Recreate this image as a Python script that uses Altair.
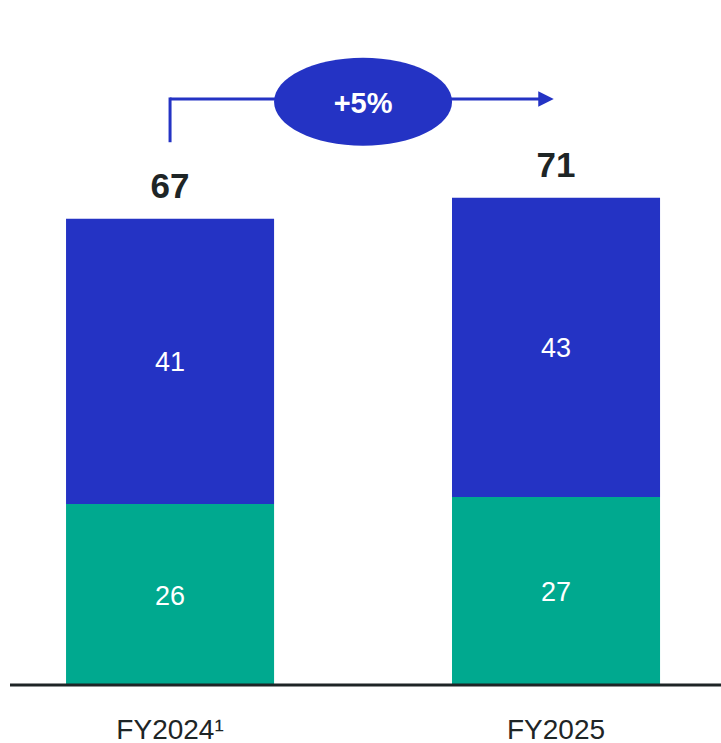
import altair as alt
import pandas as pd

# ---- data ----
years = ["FY2024¹", "FY2025"]
green_vals = [26, 27]
blue_vals = [41, 43]
totals = [67, 71]
growth_label = "+5%"

BLUE = "#2433C4"
GREEN = "#00A98F"
DARK = "#1E2526"
FONT = "Liberation Sans"

seg_df = pd.DataFrame({
    "year": years * 2,
    "segment": ["base"] * 2 + ["top"] * 2,
    "order": [0, 0, 1, 1],
    "value": green_vals + blue_vals,
})
tot_df = pd.DataFrame({
    "year": years,
    "label": [str(t) for t in totals],
    "pos": [g + b for g, b in zip(green_vals, blue_vals)],
})
ann_df = pd.DataFrame({"from": [years[0]], "to": [years[1]], "label": [growth_label]})

x_scale = alt.Scale(domain=years, paddingInner=0.461, paddingOuter=0.1645, align=0.52)
y_scale = alt.Scale(domain=[0, 98.42], nice=False)
x_axis = alt.Axis(title=None, domain=False, ticks=False, tickSize=0, labelFont=FONT,
                  labelFontSize=28, labelColor=DARK, labelPadding=53,
                  labelBaseline="alphabetic", labelAngle=0, grid=False)


def X(field):
    return alt.X(field, type="nominal", scale=x_scale, sort=years, axis=x_axis)


bars = alt.Chart(seg_df).mark_bar(strokeWidth=0).encode(
    x=X("year"),
    y=alt.Y("value:Q", stack="zero", scale=y_scale, axis=None),
    color=alt.Color("segment:N", scale=alt.Scale(domain=["base", "top"], range=[GREEN, BLUE]), legend=None),
    order=alt.Order("order:Q"),
)

seg_text = alt.Chart(seg_df).transform_stack(
    stack="value", groupby=["year"], as_=["v0", "v1"], sort=[alt.SortField("order")]
).transform_calculate(mid="(datum.v0 + datum.v1) / 2").mark_text(
    font=FONT, fontSize=27, color="white", baseline="middle", dy=2
).encode(
    x=X("year"),
    y=alt.Y("mid:Q", scale=y_scale, axis=None),
    text="value:Q",
)

tot_text = alt.Chart(tot_df).mark_text(
    font=FONT, fontSize=35, fontWeight="bold", color=DARK, baseline="alphabetic", dy=-21
).encode(
    x=X("year"),
    y=alt.Y("pos:Q", scale=y_scale, axis=None),
    text="label:N",
)

vline = alt.Chart(ann_df).mark_rule(color=BLUE, strokeWidth=3, strokeCap="square").encode(
    x=X("from"),
    y=alt.datum(78.2, scale=y_scale),
    y2=alt.datum(84.2),
)
hline = alt.Chart(ann_df).mark_rule(color=BLUE, strokeWidth=3, x2Offset=-10).encode(
    x=X("from"),
    x2="to:N",
    y=alt.datum(84.2, scale=y_scale),
)
head = alt.Chart(ann_df).mark_point(
    shape="M -1 -1 L 1 0 L -1 1 Z", size=240, filled=True, color=BLUE, opacity=1, strokeWidth=0, xOffset=-10
).encode(
    x=X("to"),
    y=alt.datum(84.2, scale=y_scale),
)
ellipse = alt.Chart(ann_df).mark_point(
    shape="M -1 0 A 1 0.494 0 1 0 1 0 A 1 0.494 0 1 0 -1 0 Z", size=31684, filled=True,
    color=BLUE, opacity=1, strokeWidth=0, xOffset=193
).encode(
    x=X("from"),
    y=alt.datum(83.8, scale=y_scale),
)
pct = alt.Chart(ann_df).mark_text(
    font=FONT, fontSize=29, fontWeight="bold", color="white", baseline="middle", dy=2, xOffset=193
).encode(
    x=X("from"),
    y=alt.datum(83.8, scale=y_scale),
    text="label:N",
)

base = alt.Chart(ann_df).mark_rule(color=DARK, strokeWidth=3).encode(
    x=alt.value(10), x2=alt.value(721), y=alt.datum(0, scale=y_scale)
)

chart = alt.layer(bars, seg_text, tot_text, vline, hline, head, ellipse, pct, base).properties(
    width=721, height=685,
    autosize=alt.AutoSizeParams(type="none"),
    padding={"left": 0, "top": 0, "right": 0, "bottom": 58},
    background="white",
).configure_view(stroke=None)

chart.save("out.html", embed_options={"renderer": "svg", "actions": False})
